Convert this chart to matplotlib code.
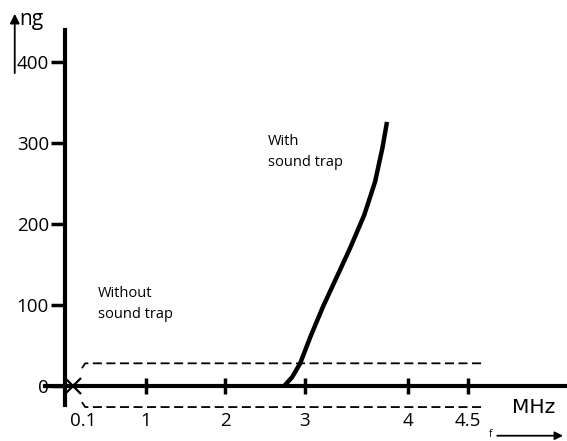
import numpy as np
import matplotlib
matplotlib.use('Agg')
import matplotlib.pyplot as plt

plt.rcParams['font.family'] = ['Open Sans', 'DejaVu Sans']

# the frequency axis in the drawing is not linear: anchor points of the hand drawn scale
scale_f = [-0.8, 0.0, 0.1, 1.0, 2.0, 3.0, 4.0, 4.5, 5.33]
scale_px = [0, 65, 73, 146, 225, 305, 408, 468, 567]

def fwd(f):
    return np.interp(f, scale_f, scale_px)

def inv(p):
    return np.interp(p, scale_px, scale_f)

# data
xticks = [1, 2, 3, 4, 4.5]
xticklabels = ['1', '2', '3', '4', '4.5']
yticks = [0, 100, 200, 300, 400]
yticklabels = ['0', '100', '200', '300', '400']

trap_f = [2.74, 2.84, 2.94, 3.05, 3.175, 3.31, 3.437, 3.575, 3.68, 3.752, 3.796]
trap_ng = [0, 11, 28, 60, 98, 135, 170, 211, 252, 294, 326]

band_f = [0.21, 0.25, 4.64]
band_hi = [22, 28, 28]
band_lo = [-20, -26, -26]

fig = plt.figure(figsize=(5.67, 4.41), dpi=100)
ax = fig.add_axes([0, 0, 1, 1])
ax.set_xscale('function', functions=(fwd, inv))
ax.set_xlim(-0.8, 5.33)
ax.set_ylim(-67.9, 476.5)

for s in ['top', 'right']:
    ax.spines[s].set_visible(False)
ax.spines['left'].set_position(('data', 0))
ax.spines['left'].set_bounds(-23, 440)
ax.spines['left'].set_linewidth(3)
ax.spines['bottom'].set_position(('data', 0))
ax.spines['bottom'].set_bounds(-0.25, 5.33)
ax.spines['bottom'].set_linewidth(3)

ax.set_xticks(xticks)
ax.set_xticklabels(xticklabels)
ax.set_yticks(yticks)
ax.set_yticklabels(yticklabels)
ax.minorticks_off()
ax.tick_params(axis='x', direction='inout', length=12, width=2.5, pad=13, labelsize=13.5)
ax.tick_params(axis='y', direction='out', length=10, width=2.5, pad=1.5, labelsize=13.5)

# band without sound trap
ax.plot(band_f, band_hi, color='k', lw=1.3, ls=(0, (5, 2.5)))
ax.plot(band_f, band_lo, color='k', lw=1.3, ls=(0, (5, 2.5)))

# with sound trap
ax.plot(trap_f, trap_ng, color='k', lw=3.2, solid_capstyle='butt', solid_joinstyle='round')

ax.plot([0.1], [0], marker='x', ms=11, mew=1.6, color='k', clip_on=False)
ax.annotate('0.1', (0.1, 0), xytext=(7, -19), textcoords='offset points',
            ha='center', va='top', fontsize=13.5)

ax.text(0.173, 0.311, 'Without\nsound trap', transform=ax.transAxes,
        fontsize=10.5, linespacing=1.55, va='center', ha='left')
ax.text(0.472, 0.655, 'With\nsound trap', transform=ax.transAxes,
        fontsize=10.5, linespacing=1.55, va='center', ha='left')

ax.text(0.942, 0.075, 'MHz', transform=ax.transAxes, fontsize=14.5, ha='center', va='center',
        family='DejaVu Sans')

# axis arrows
ax.annotate('', xy=(0.026, 0.975), xytext=(0.026, 0.828), xycoords='axes fraction',
            arrowprops=dict(arrowstyle='-|>', lw=1.3, color='k', mutation_scale=14))
ax.text(0.034, 0.955, 'ng', transform=ax.transAxes, fontsize=15, va='center', ha='left')
ax.annotate('', xy=(0.998, 0.012), xytext=(0.872, 0.012), xycoords='axes fraction',
            arrowprops=dict(arrowstyle='-|>', lw=1.3, color='k', mutation_scale=12))
ax.text(0.865, 0.014, 'f', transform=ax.transAxes, fontsize=7, va='center', ha='center')

fig.savefig('out.png', dpi=100)
